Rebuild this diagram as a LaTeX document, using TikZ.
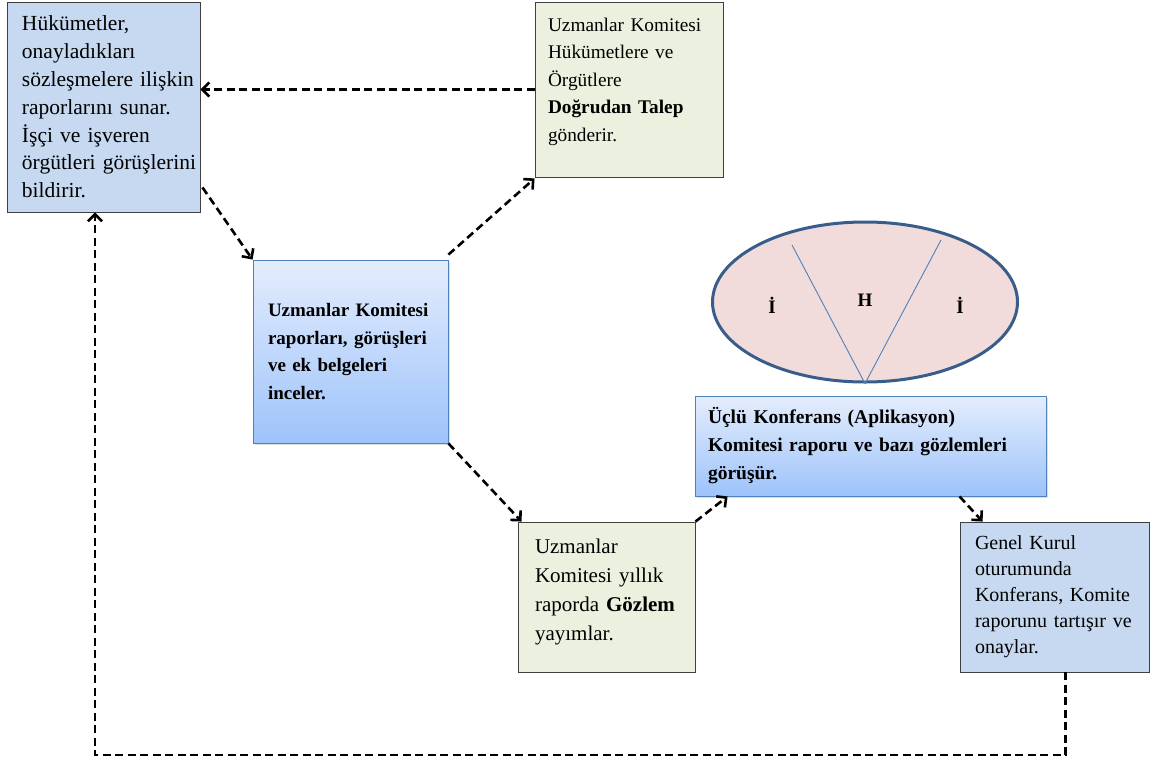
\documentclass[tikz,border=0pt]{standalone}
\usepackage{fontspec}
\setmainfont{Liberation Serif}
\usetikzlibrary{arrows.meta,calc,shadows,shapes.geometric}

\definecolor{paleblue}{RGB}{198,217,241}
\definecolor{palegreen}{RGB}{235,241,222}
\definecolor{gradtop}{RGB}{228,237,252}
\definecolor{gradbot}{RGB}{157,195,251}
\definecolor{edgeblue}{RGB}{79,129,189}
\definecolor{ovalfill}{RGB}{242,220,219}
\definecolor{ovaledge}{RGB}{56,93,138}

\begin{document}
\begin{tikzpicture}[x=1pt, y=-1pt,
  font=\fontsize{20}{27.5}\selectfont,
  every node/.style = {shape=rectangle, align=left, inner sep=0pt},
  card/.style = {draw=black!75, line width=0.9pt},
  bluecard/.style = {card, fill=paleblue},
  greencard/.style = {card, fill=palegreen},
  gradcard/.style = {card, draw=edgeblue, top color=gradtop, bottom color=gradbot,
    drop shadow={opacity=0.25, shadow xshift=2pt, shadow yshift=-2pt}},
  link/.style = {line width=2.6pt, dash pattern=on 8pt off 4.5pt,
    -{Straight Barb[length=7pt, width=14pt]}},
  spoke/.style = {edgeblue, line width=0.9pt},
  letter/.style = {font=\fontsize{19}{20}\selectfont\bfseries}]
  \useasboundingbox (0,0) rectangle (1158,763);

  % boxes
  \node[bluecard, minimum width=193pt, minimum height=210pt, text width=189pt,
    font=\fontsize{21.5}{27.8}\selectfont]
    (govt) at (103.5,107) {\leftskip=13pt Hükümetler,\\ onayladıkları\\ sözleşmelere ilişkin\\
      raporlarını sunar.\\ İşçi ve işveren\\ örgütleri görüşlerini\\ bildirir.\par};
  \node[greencard, minimum width=188pt, minimum height=175pt, text width=184pt,
    font=\fontsize{19.3}{27.5}\selectfont]
    (req) at (629,89.5) {\leftskip=11pt Uzmanlar Komitesi\\ Hükümetlere ve\\ Örgütlere\\
      \textbf{Doğrudan Talep}\\ gönderir.\\[-8pt]\mbox{}\par};
  \node[gradcard, minimum width=195pt, minimum height=183pt, text width=191pt,
    font=\fontsize{19}{27.5}\selectfont\bfseries]
    (exam) at (350.5,351.5) {\leftskip=13pt Uzmanlar Komitesi\\ raporları, görüşleri\\
      ve ek belgeleri\\ inceler.\par};
  \node[greencard, minimum width=177pt, minimum height=150pt, text width=173pt,
    font=\fontsize{21}{29}\selectfont]
    (obs) at (606.5,597) {\leftskip=15pt Uzmanlar\\ Komitesi yıllık\\ raporda \textbf{Gözlem}\\
      yayımlar.\\[-14pt]\mbox{}\par};
  \node[gradcard, minimum width=351pt, minimum height=100pt, text width=347pt,
    font=\fontsize{19.5}{28}\selectfont\bfseries]
    (conf) at (870.5,446) {\leftskip=11pt Üçlü Konferans (Aplikasyon)\\
      Komitesi raporu ve bazı gözlemleri\\ görüşür.\par};
  \node[bluecard, minimum width=189pt, minimum height=150pt, text width=185pt,
    font=\fontsize{20}{26}\selectfont]
    (plen) at (1054.5,597) {\leftskip=13pt Genel Kurul\\ oturumunda\\ Konferans, Komite\\
      raporunu tartışır ve\\ onaylar.\par};

  % tripartite oval
  \node[ellipse, draw=ovaledge, fill=ovalfill, line width=3pt,
    minimum width=305pt, minimum height=160pt] (oval) at (865,302) {};
  \coordinate (lefttop) at (792,245);
  \coordinate (righttop) at (941,240);
  \draw[spoke] (oval.south) -- (lefttop);
  \draw[spoke] (oval.south) -- (righttop);
  \node[letter] (workers) at (772,305) {İ};
  \node[letter] (state) at (865,300) {H};
  \node[letter] (employers) at (960,305) {İ};

  % dashed flow
  \draw[link] (req.west) -- (req.west -| govt.east);
  \draw[link] ($(govt.south east)+(2,-25)$) -- (exam.north west);
  \draw[link] ($(exam.north east)+(0,-5)$) -- ($(req.south west)+(0,1)$);
  \draw[link] (exam.south east) -- ($(obs.north west)+(4,0)$);
  \draw[link] (obs.north east) -- ($(conf.south west)+(33,0)$);
  \draw[link] ($(conf.south west)+(265,0)$) -- ($(plen.north west)+(23,0)$);
  \coordinate (back) at (95,755);
  \draw[link] ($(plen.south west)+(106,0)$) |- (back) -- (back |- govt.south);
\end{tikzpicture}
\end{document}
